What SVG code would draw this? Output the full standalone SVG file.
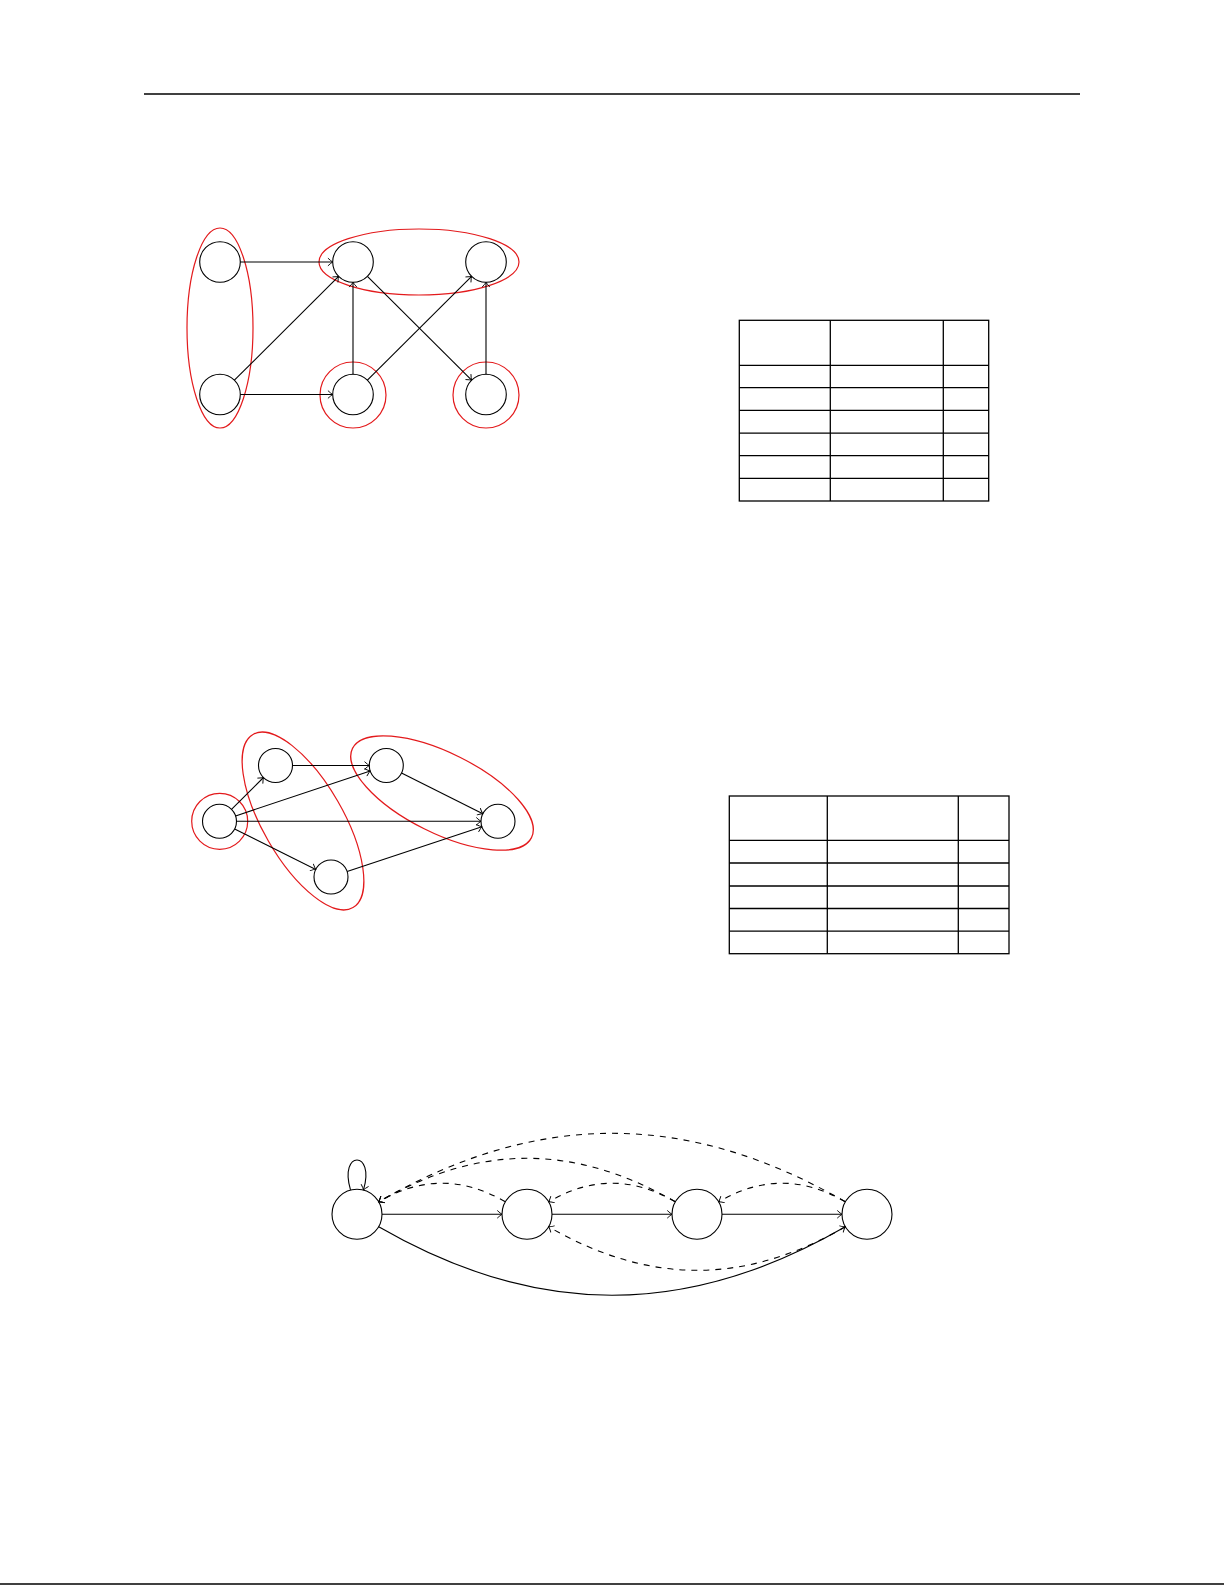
<svg xmlns="http://www.w3.org/2000/svg" width="1225" height="1585" viewBox="0 0 1225 1585">
<style>
.n{fill:none;stroke:#000;stroke-width:1.1}
.g{fill:none;stroke:#e31a1c;stroke-width:1.2}
.e{fill:none;stroke:#000;stroke-width:1.1;marker-end:url(#arr)}
.d{fill:none;stroke:#000;stroke-width:1.1;stroke-dasharray:6 6;marker-end:url(#arr)}
.t{fill:none;stroke:#000;stroke-width:1.3}
.r{stroke:#000;stroke-width:1.3}
</style>
<defs>
<marker id="arr" markerUnits="userSpaceOnUse" markerWidth="12" markerHeight="12" viewBox="-6 -6 12 12" refX="0" refY="0" orient="auto">
<path d="M-4.5,-3.6 Q-1.6,-0.9 0,0 Q-1.6,0.9 -4.5,3.6" fill="none" stroke="#000" stroke-width="0.9" stroke-linecap="round"/>
</marker>
</defs>
<rect width="1225" height="1585" fill="#fff"/>
<line class="r" x1="144" y1="94" x2="1080" y2="94"/>
<line class="r" x1="0" y1="1584" x2="1224" y2="1584"/>

<!-- Graph 1 -->
<g id="g1-groups">
<ellipse class="g" cx="220" cy="328" rx="33" ry="100"/>
<ellipse class="g" cx="419" cy="262" rx="100" ry="33"/>
<circle class="g" cx="353" cy="395" r="33"/>
<circle class="g" cx="486" cy="395" r="33"/>
</g>
<g id="g1-edges">
<line class="e" x1="240.3" y1="262" x2="332.7" y2="262"/>
<line class="e" x1="234.4" y1="380.2" x2="338.6" y2="276.3"/>
<line class="e" x1="240.3" y1="394.5" x2="332.7" y2="394.5"/>
<line class="e" x1="353" y1="374.2" x2="353" y2="282.3"/>
<line class="e" x1="367.4" y1="380.2" x2="471.6" y2="276.3"/>
<line class="e" x1="367.4" y1="276.3" x2="471.6" y2="380.2"/>
<line class="e" x1="486" y1="374.2" x2="486" y2="282.3"/>
</g>
<g id="g1-A"><circle class="n" cx="220" cy="262" r="20.3"/></g>
<g id="g1-B"><circle class="n" cx="353" cy="262" r="20.3"/></g>
<g id="g1-C"><circle class="n" cx="486" cy="262" r="20.3"/></g>
<g id="g1-D"><circle class="n" cx="220" cy="394.5" r="20.3"/></g>
<g id="g1-E"><circle class="n" cx="353" cy="394.5" r="20.3"/></g>
<g id="g1-F"><circle class="n" cx="486" cy="394.5" r="20.3"/></g>

<!-- Table 1 -->
<g id="table1" class="t">
<rect x="739.3" y="320.3" width="249.4" height="180.7"/>
<line x1="830.3" y1="320.3" x2="830.3" y2="501"/>
<line x1="943.3" y1="320.3" x2="943.3" y2="501"/>
<line x1="739.3" y1="365.3" x2="988.7" y2="365.3"/>
<line x1="739.3" y1="387.6" x2="988.7" y2="387.6"/>
<line x1="739.3" y1="410.3" x2="988.7" y2="410.3"/>
<line x1="739.3" y1="433.2" x2="988.7" y2="433.2"/>
<line x1="739.3" y1="455.6" x2="988.7" y2="455.6"/>
<line x1="739.3" y1="478.4" x2="988.7" y2="478.4"/>
</g>

<!-- Graph 2 -->
<g id="g2-groups">
<circle class="g" cx="219.7" cy="821.3" r="28"/>
<ellipse class="g" cx="303" cy="821" rx="100" ry="40" transform="rotate(60 303 821)"/>
<ellipse class="g" cx="442" cy="793" rx="100" ry="40" transform="rotate(26.5 442 793)"/>
</g>
<g id="g2-edges">
<line class="e" x1="231.5" y1="809.3" x2="263.5" y2="777.5"/>
<line class="e" x1="235.6" y1="815.9" x2="370.2" y2="770.9"/>
<line class="e" x1="236.5" y1="821.3" x2="481" y2="821.3"/>
<line class="e" x1="234.7" y1="828.9" x2="315.8" y2="869.4"/>
<line class="e" x1="292.5" y1="765.5" x2="369.3" y2="765.5"/>
<line class="e" x1="401.5" y1="773.1" x2="482.8" y2="813.7"/>
<line class="e" x1="347.1" y1="871.6" x2="481.9" y2="826.7"/>
</g>
<g id="g2-S"><circle class="n" cx="219.5" cy="821.3" r="17"/></g>
<g id="g2-a"><circle class="n" cx="275.5" cy="765.5" r="17"/></g>
<g id="g2-b"><circle class="n" cx="386.3" cy="765.5" r="17"/></g>
<g id="g2-c"><circle class="n" cx="331" cy="877" r="17"/></g>
<g id="g2-t"><circle class="n" cx="498" cy="821.3" r="17"/></g>

<!-- Table 2 -->
<g id="table2" class="t">
<rect x="729.3" y="796" width="279.7" height="157.7"/>
<line x1="827.3" y1="796" x2="827.3" y2="953.7"/>
<line x1="958.3" y1="796" x2="958.3" y2="953.7"/>
<line x1="729.3" y1="840.3" x2="1009" y2="840.3"/>
<line x1="729.3" y1="863" x2="1009" y2="863"/>
<line x1="729.3" y1="886" x2="1009" y2="886"/>
<line x1="729.3" y1="908.5" x2="1009" y2="908.5"/>
<line x1="729.3" y1="931.2" x2="1009" y2="931.2"/>
</g>

<!-- Graph 3 -->
<g id="g3-edges">
<path class="e" d="M350.5,1189.9 C338.5,1150 375.5,1150 363.5,1189.9"/>
<line class="e" x1="382" y1="1214.3" x2="502" y2="1214.3"/>
<line class="e" x1="552" y1="1214.3" x2="672" y2="1214.3"/>
<line class="e" x1="722" y1="1214.3" x2="842" y2="1214.3"/>
<path class="e" d="M378.7,1226.8 C536.9,1318.1 687.1,1318.1 845.3,1226.8"/>
<path class="d" d="M505.3,1201.8 C462.4,1177 421.6,1177 378.7,1201.8"/>
<path class="d" d="M675.3,1201.8 C632.4,1177 591.6,1177 548.7,1201.8"/>
<path class="d" d="M845.3,1201.8 C802.4,1177 761.6,1177 718.7,1201.8"/>
<path class="d" d="M675.3,1201.8 C574.8,1143.8 479.2,1143.8 378.7,1201.8"/>
<path class="d" d="M845.3,1201.8 C687.1,1110.5 536.9,1110.5 378.7,1201.8"/>
<path class="d" d="M845.3,1226.8 C744.8,1284.8 649.2,1284.8 548.7,1226.8"/>
</g>
<g id="g3-N0"><circle class="n" cx="357" cy="1214.3" r="25"/></g>
<g id="g3-N1"><circle class="n" cx="527" cy="1214.3" r="25"/></g>
<g id="g3-N2"><circle class="n" cx="697" cy="1214.3" r="25"/></g>
<g id="g3-N3"><circle class="n" cx="867" cy="1214.3" r="25"/></g>
</svg>
